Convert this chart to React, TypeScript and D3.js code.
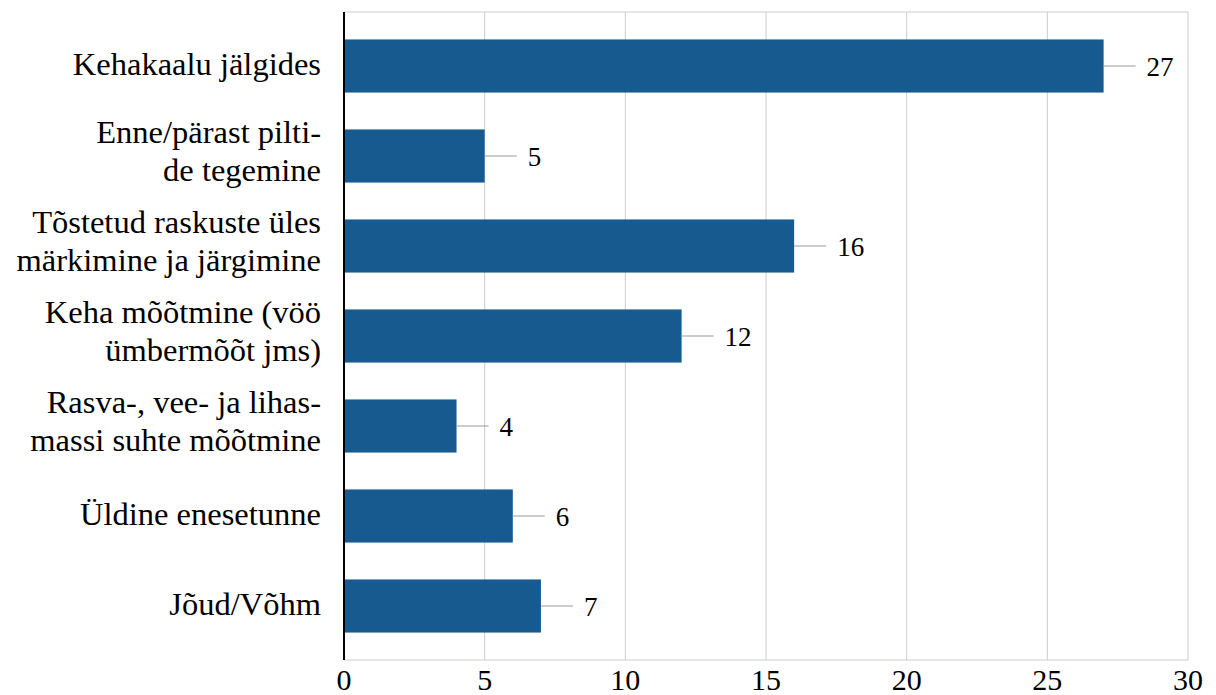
import React from "react";
import * as d3 from "d3";

// Survey answers: how progress is tracked
const categoryLines: string[][] = [
  ["Kehakaalu jälgides"],
  ["Enne/pärast pilti-", "de tegemine"],
  ["Tõstetud raskuste üles", "märkimine ja järgimine"],
  ["Keha mõõtmine (vöö", "ümbermõõt jms)"],
  ["Rasva-, vee- ja lihas-", "massi suhte mõõtmine"],
  ["Üldine enesetunne"],
  ["Jõud/Võhm"],
];
const counts: number[] = [27, 5, 16, 12, 4, 6, 7];
const xTicks: number[] = [0, 5, 10, 15, 20, 25, 30];

const W = 1216;
const H = 695;
const left = 344;
const right = 1188;
const top = 12;
const bottom = 660;

const BAR = "#175a8f";
const GRID = "#cccccc";
const SERIF = "Liberation Serif";

export default function App() {
  const x = d3.scaleLinear().domain([0, 30]).range([left, right]);
  const y = d3
    .scaleBand<number>()
    .domain(d3.range(counts.length))
    .range([top, bottom])
    .paddingInner(0.41)
    .paddingOuter(0.305);

  const lineGap = 38;
  const labelRight = 321;

  return (
    <svg
      width={W}
      height={H}
      style={{ position: "absolute", left: 0, top: 0, background: "#fff" }}
    >
      {/* vertical grid */}
      {xTicks.map((t) => (
        <line
          key={"g" + t}
          x1={x(t)}
          x2={x(t)}
          y1={top}
          y2={bottom}
          stroke={GRID}
          strokeWidth={1}
        />
      ))}
      {/* frame: top and bottom */}
      <line x1={left} x2={right} y1={top} y2={top} stroke={GRID} strokeWidth={1} />
      <line x1={left} x2={right} y1={bottom} y2={bottom} stroke={GRID} strokeWidth={1} />

      {/* bars, leader lines and value labels */}
      {counts.map((v, i) => {
        const y0 = y(i)!;
        const cy = y0 + y.bandwidth() / 2;
        const xe = x(v);
        return (
          <g key={"b" + i}>
            <rect x={x(0)} y={y0} width={xe - x(0)} height={y.bandwidth()} fill={BAR} />
            <line x1={xe} x2={xe + 32} y1={cy} y2={cy} stroke="#999" strokeWidth={1} />
            <text
              x={xe + 43}
              y={cy + 9.5}
              fontFamily={SERIF}
              fontSize={27}
              fill="#000"
            >
              {v}
            </text>
          </g>
        );
      })}

      {/* category labels */}
      {categoryLines.map((lines, i) => {
        const cy = y(i)! + y.bandwidth() / 2;
        const base =
          lines.length === 1 ? cy + 9 : cy + 6 - ((lines.length - 1) * lineGap) / 2;
        return (
          <text
            key={"c" + i}
            x={labelRight}
            textAnchor="end"
            fontFamily={SERIF}
            fontSize={32.5}
            fill="#000"
          >
            {lines.map((ln, k) => (
              <tspan key={k} x={labelRight} y={base + k * lineGap}>
                {ln}
              </tspan>
            ))}
          </text>
        );
      })}

      {/* left axis */}
      <line x1={left} x2={left} y1={top} y2={bottom} stroke="#000" strokeWidth={2} />

      {/* x tick labels */}
      {xTicks.map((t) => (
        <text
          key={"t" + t}
          x={x(t)}
          y={690}
          textAnchor="middle"
          fontFamily={SERIF}
          fontSize={30}
          fill="#000"
        >
          {t}
        </text>
      ))}
    </svg>
  );
}
